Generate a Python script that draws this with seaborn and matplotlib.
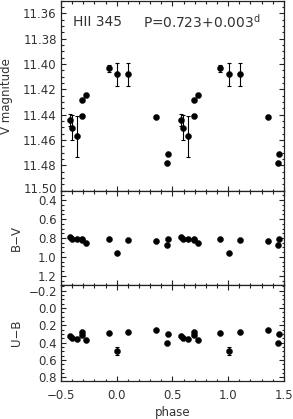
import numpy as np
import pandas as pd
import matplotlib
matplotlib.use("Agg")
import matplotlib.pyplot as plt
import matplotlib.transforms as mtransforms
import seaborn as sns
from matplotlib.ticker import MultipleLocator

##HII 345 light curve: phase folded V, B-V and U-B, each point shown twice (phase and phase+-1)

phase = [0.580, 0.595, 0.644, 0.689, 0.692, 0.728, 0.928, 0.006, 0.105, 0.353, 0.447, 0.458]
vmag = [11.4442, 11.4503, 11.4569, 11.4409, 11.4285, 11.4248, 11.4035, 11.4082, 11.4082, 11.4416, 11.4780, 11.4710]
vmag_err = [0.0050, 0.0097, 0.0162, 0.0010, 0.0010, 0.0010, 0.0030, 0.0093, 0.0093, 0.0012, 0.0010, 0.0010]
bv = [0.793, 0.810, 0.807, 0.810, 0.825, 0.852, 0.814, 0.954, 0.825, 0.828, 0.870, 0.807]
ub = [0.328, 0.348, 0.363, 0.317, 0.279, 0.371, 0.290, 0.498, 0.279, 0.257, 0.409, 0.298]
ub_err = [0.008, 0.008, 0.008, 0.008, 0.008, 0.008, 0.008, 0.050, 0.008, 0.008, 0.008, 0.008]

base = pd.DataFrame({"phase": phase, "V": vmag, "Verr": vmag_err, "BV": bv, "UB": ub, "UBerr": ub_err})
parts = []
for shift in [-1, 0, 1]:
    p = base.copy()
    p["phase"] = p["phase"] + shift
    parts.append(p)
lc = pd.concat(parts)
lc = lc[(lc["phase"] > -0.5) & (lc["phase"] < 1.5)]

sns.set_style("ticks")
plt.rcParams["font.family"] = ["DejaVu Sans"]
plt.rcParams["font.size"] = 8.5

txt = "#333333"
fig = plt.figure(figsize=(2.93, 4.19), dpi=100)
left, width = 0.208, 0.761
ax1 = fig.add_axes([left, 0.5449, width, 0.4539])
ax2 = fig.add_axes([left, 0.3191, width, 0.2258])
ax3 = fig.add_axes([left, 0.0914, width, 0.2277])

def style(ax, major, minor):
    ax.set_xlim(-0.5, 1.5)
    ax.xaxis.set_major_locator(MultipleLocator(0.5))
    ax.xaxis.set_minor_locator(MultipleLocator(0.1))
    ax.yaxis.set_major_locator(MultipleLocator(major))
    ax.yaxis.set_minor_locator(MultipleLocator(minor))
    ax.tick_params(which="both", direction="in", top=True, right=True, color="#222222",
                   labelcolor=txt, width=0.8, pad=3)
    ax.tick_params(which="major", length=3.4)
    ax.tick_params(which="minor", length=1.8)
    ax.tick_params(axis="x", pad=6)
    for s in ax.spines.values():
        s.set_linewidth(0.9)
        s.set_color("#222222")

msize = 19

# V magnitude
ax1.errorbar(lc["phase"], lc["V"], yerr=lc["Verr"], fmt="none", ecolor="black", elinewidth=0.8, capsize=1.6, capthick=0.8)
sns.scatterplot(data=lc, x="phase", y="V", ax=ax1, color="black", s=msize, edgecolor="black", linewidth=0.3, legend=False)
ax1.set_ylim(11.50, 11.35)
style(ax1, 0.02, 0.005)
ax1.set_yticks([11.36, 11.38, 11.40, 11.42, 11.44, 11.46, 11.48, 11.50])
ax1.set_yticklabels(["%.2f" % t for t in ax1.get_yticks()])
ax1.set_xticklabels([])
ax1.set_xlabel("")
ax1.set_ylabel("V magnitude", color=txt)
ax1.yaxis.set_label_coords(-0.214, 0.5)
ax1.text(0.052, 0.888, "HII 345", transform=ax1.transAxes, color=txt, fontsize=10, va="center")
ax1.text(0.369, 0.888, r"P=0.723+0.003$^{\rm d}$", transform=ax1.transAxes, color=txt, fontsize=10, va="center")
# last label of the top panel sits a little above its tick, as in the original
up = mtransforms.ScaledTranslation(0, 2 / 72, fig.dpi_scale_trans)
lab = ax1.get_yticklabels()[-1]
lab.set_transform(lab.get_transform() + up)

# B-V
sns.scatterplot(data=lc, x="phase", y="BV", ax=ax2, color="black", s=msize, edgecolor="black", linewidth=0.3, legend=False)
ax2.set_ylim(1.3, 0.3)
style(ax2, 0.2, 0.05)
ax2.set_yticks([0.4, 0.6, 0.8, 1.0, 1.2])
ax2.set_yticklabels(["0.4", "0.6", "0.8", "1.0", "1.2"])
ax2.set_xticklabels([])
ax2.set_xlabel("")
ax2.set_ylabel("B\u2212V", color=txt)
ax2.yaxis.set_label_coords(-0.172, 0.5)

# U-B
ax3.errorbar(lc["phase"], lc["UB"], yerr=lc["UBerr"], fmt="none", ecolor="black", elinewidth=0.8, capsize=1.6, capthick=0.8)
sns.scatterplot(data=lc, x="phase", y="UB", ax=ax3, color="black", s=msize, edgecolor="black", linewidth=0.3, legend=False)
ax3.set_ylim(0.84, -0.26)
style(ax3, 0.2, 0.05)
ax3.set_yticks([-0.2, 0.0, 0.2, 0.4, 0.6, 0.8])
ax3.set_yticklabels(["\u22120.2", "0.0", "0.2", "0.4", "0.6", "0.8"])
ax3.set_xticks([-0.5, 0.0, 0.5, 1.0, 1.5])
ax3.set_xticklabels(["\u22120.5", "0.0", "0.5", "1.0", "1.5"])
ax3.set_xlabel("phase", color=txt, labelpad=3)
ax3.set_ylabel("U\u2212B", color=txt)
ax3.yaxis.set_label_coords(-0.172, 0.5)

fig.savefig("out.png", dpi=100)
